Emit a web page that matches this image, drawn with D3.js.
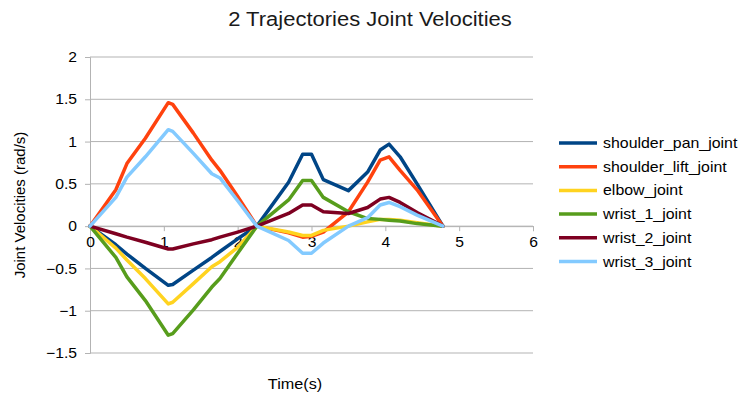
<!DOCTYPE html>
<html><head><meta charset="utf-8">
<script src="https://cdn.jsdelivr.net/npm/d3@7"></script>
<style>body{margin:0;background:#fff;}text{font-family:"Liberation Sans",Arial,sans-serif;}</style>
</head><body>
<svg id="c" width="742" height="394"></svg>
<script>
const times = [0, 0.35, 0.5, 0.75, 1.06, 1.12, 1.4, 1.65, 1.76, 2.0, 2.26, 2.69, 2.88, 3.0, 3.16, 3.5, 3.76, 3.93, 4.05, 4.2, 4.43, 4.78];
const shoulderPan  = [0, -0.22, -0.33, -0.5, -0.70, -0.69, -0.52, -0.37, -0.30, -0.15, 0, 0.52, 0.85, 0.85, 0.55, 0.42, 0.64, 0.9, 0.97, 0.82, 0.5, 0];
const shoulderLift = [0, 0.43, 0.74, 1.04, 1.46, 1.44, 1.10, 0.78, 0.66, 0.35, 0, -0.08, -0.13, -0.12, -0.07, 0.17, 0.52, 0.78, 0.82, 0.66, 0.43, 0];
const elbow        = [0, -0.26, -0.40, -0.62, -0.92, -0.90, -0.68, -0.48, -0.42, -0.25, 0, -0.07, -0.11, -0.11, -0.05, 0.0, 0.05, 0.08, 0.08, 0.07, 0.04, 0];
const wrist1       = [0, -0.37, -0.6, -0.88, -1.29, -1.27, -0.99, -0.72, -0.62, -0.32, 0, 0.31, 0.54, 0.54, 0.34, 0.17, 0.09, 0.08, 0.07, 0.06, 0.03, 0];
const wrist2       = [0, -0.09, -0.13, -0.19, -0.27, -0.27, -0.21, -0.16, -0.13, -0.07, 0, 0.15, 0.25, 0.25, 0.17, 0.15, 0.22, 0.32, 0.34, 0.28, 0.16, 0];
const wrist3       = [0, 0.34, 0.58, 0.82, 1.14, 1.12, 0.86, 0.62, 0.57, 0.30, 0, -0.17, -0.32, -0.32, -0.2, 0.0, 0.1, 0.25, 0.28, 0.23, 0.13, 0];
const seriesNames = ["shoulder_pan_joint","shoulder_lift_joint","elbow_joint","wrist_1_joint","wrist_2_joint","wrist_3_joint"];
const seriesValues = [shoulderPan, shoulderLift, elbow, wrist1, wrist2, wrist3];
const colors = ["#004586","#ff420e","#ffd320","#579d1c","#7e0021","#83caff"];
const xTicks = [0,1,2,3,4,5,6];
const yTicks = [-1.5,-1,-0.5,0,0.5,1,1.5,2];

const svg = d3.select("#c");
const L = 90, R = 533, T = 57, B = 353;
const x = d3.scaleLinear().domain([0,6]).range([L,R]);
const y = d3.scaleLinear().domain([-1.5,2]).range([B,T]);

function stretch(sel, f){
  sel.each(function(){
    const w = this.getComputedTextLength();
    d3.select(this).attr("textLength", w*f).attr("lengthAdjust","spacingAndGlyphs");
  });
}

// grid
svg.append("g").selectAll("line").data(yTicks).join("line")
  .attr("x1",L).attr("x2",R).attr("y1",d=>y(d)).attr("y2",d=>y(d))
  .attr("stroke","#b3b3b3").attr("stroke-width",1);

// y axis
const ya = svg.append("g").attr("transform",`translate(${L},0)`)
  .call(d3.axisLeft(y).tickValues(yTicks).tickSize(5).tickPadding(8).tickFormat(d3.format("")));
ya.select(".domain").attr("stroke","#b3b3b3");
ya.selectAll(".tick line").attr("stroke","#b3b3b3");
ya.selectAll("text").attr("font-size",14.5).attr("fill","#000").style("font-family","Liberation Sans, Arial, sans-serif");
stretch(ya.selectAll("text"),1.08);

// x axis at y=0
const xa = svg.append("g").attr("transform",`translate(0,${y(0)})`)
  .call(d3.axisBottom(x).tickValues(xTicks).tickSize(5).tickPadding(6).tickFormat(d3.format("d")));
xa.select(".domain").attr("stroke","#b3b3b3");
xa.selectAll(".tick line").attr("stroke","#b3b3b3");
xa.selectAll("text").attr("font-size",14.5).attr("fill","#000").style("font-family","Liberation Sans, Arial, sans-serif");
stretch(xa.selectAll("text"),1.08);

// lines
const line = d3.line().x((d,i)=>x(times[i])).y(d=>y(d));
seriesValues.forEach((vals,k)=>{
  svg.append("path").datum(vals).attr("d",line).attr("fill","none")
    .attr("stroke",colors[k]).attr("stroke-width",3.5).attr("stroke-linejoin","round").attr("stroke-linecap","round");
});

// title
const title = svg.append("text").attr("x",370).attr("y",26).attr("text-anchor","middle")
  .attr("font-size",20).attr("fill","#1a1a1a").text("2 Trajectories Joint Velocities");
stretch(title,1.1);
// axis titles
const xt = svg.append("text").attr("x",295).attr("y",389).attr("text-anchor","middle")
  .attr("font-size",15).attr("fill","#000").text("Time(s)");
stretch(xt,1.08);
svg.append("text").attr("transform","translate(25,205) rotate(-90)").attr("text-anchor","middle")
  .attr("font-size",15).attr("fill","#000").text("Joint Velocities (rad/s)");

// legend
const lg = svg.append("g");
seriesNames.forEach((n,k)=>{
  const yy = 143 + k*23.7;
  lg.append("line").attr("x1",559).attr("x2",597).attr("y1",yy).attr("y2",yy)
    .attr("stroke",colors[k]).attr("stroke-width",3.5);
  const t = lg.append("text").attr("x",603).attr("y",yy+5).attr("font-size",15).attr("fill","#000").text(n);
  stretch(t,1.06);
});
</script>
</body></html>
